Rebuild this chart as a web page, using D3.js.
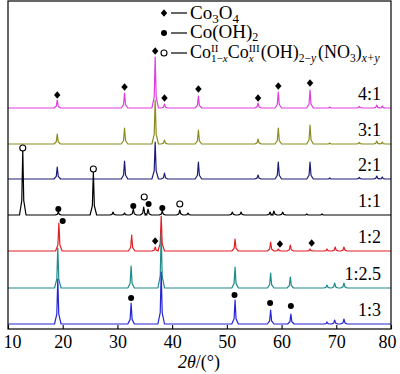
<!DOCTYPE html>
<meta charset='utf-8'>
<title>XRD patterns</title>
<style>
body {
  margin: 0;
  background-color: #fff;
}
text {
  font-family: "Liberation Serif", "Times New Roman", serif;
}
</style>
<svg width="400" height="374"></svg>
<script src="https://d3js.org/d3.v7.min.js"></script>
<script>

// x axis ticks (2theta, degrees)
var thetaTicks = [10, 20, 30, 40, 50, 60, 70, 80];

// sample labels, top to bottom, and their vertical offsets (intensity units)
var sampleLabels = ["4:1", "3:1", "2:1", "1:1", "1:2", "1:2.5", "1:3"];
var sampleOffsets = [221, 185, 150, 114, 78, 41, 5];
var sampleColors = ["#e03ce0", "#8c8c1e", "#1c1c78", "#000000", "#e31e24", "#1f8a8a", "#2424d4"];

// peaks: [2theta, height]
var peaks41 = [[19.0, 8], [31.3, 15], [36.9, 51], [38.6, 4], [44.8, 12], [55.7, 5], [59.4, 16], [65.2, 18], [68.8, 1], [74.2, 1.5], [77.4, 3], [78.4, 2]];
var peaks31 = [[19.0, 10], [31.3, 16], [36.9, 44], [38.6, 4], [44.8, 14], [55.7, 5], [59.4, 16], [65.2, 19], [68.8, 1], [74.2, 1.5], [77.4, 3], [78.4, 2]];
var peaks21 = [[19.0, 12], [31.3, 18], [36.9, 37], [38.6, 6], [44.8, 17], [55.7, 4], [59.4, 17], [65.2, 17], [68.8, 1], [74.2, 1.5], [77.4, 3], [78.4, 2]];
var peaks11 = [[12.7, 65], [19.2, 3], [25.6, 43], [29.2, 3], [31.3, 2], [32.9, 6], [34.8, 8], [35.6, 6], [38.2, 4], [41.4, 5], [42.9, 2], [51.0, 3], [52.6, 3], [57.9, 3], [58.6, 4], [60.2, 3], [64.6, 1], [67.4, 1]];
var peaks12 = [[19.3, 28], [32.6, 16], [36.9, 4], [38.0, 35], [51.5, 12], [58.0, 9], [59.4, 2], [61.6, 6], [65.2, 2], [68.3, 2], [69.8, 4], [71.4, 4]];
var peaks125 = [[19.1, 40], [32.5, 22], [38.0, 55], [51.5, 21], [58.0, 15], [61.6, 11], [68.3, 3], [69.7, 5], [71.4, 5]];
var peaks13 = [[19.1, 45], [32.5, 21], [38.0, 52], [51.5, 24], [58.0, 14], [61.7, 10], [68.3, 2], [69.7, 4], [71.4, 5]];
var samplePeaks = [peaks41, peaks31, peaks21, peaks11, peaks12, peaks125, peaks13];

// phase markers: [2theta, level]
var spinelMarks = [[19.0, 234], [31.3, 242], [36.9, 278], [38.6, 231], [44.8, 240], [55.7, 231], [59.4, 243], [65.2, 246],
                   [36.9, 88], [59.7, 85], [65.5, 86]];
var hydroxideMarks = [[19.2, 120], [32.9, 123], [35.7, 125], [38.2, 121], [20.0, 108],
                      [32.5, 31], [51.4, 34], [57.9, 26], [61.7, 23]];
var nitrateMarks = [[12.7, 181], [25.6, 160], [34.9, 132], [41.4, 125]];

var svg = d3.select("svg");
var plotLeft = 8, plotRight = 391, plotTop = 1, plotBottom = 329;

var x = d3.scaleLinear().domain([10, 80]).range([plotLeft, plotRight]);
var y = d3.scaleLinear().domain([0, 328]).range([plotBottom, plotTop]);

var hw = 0.6; // half width of a drawn peak, degrees

function profile(peaks) {
  var pts = [[10, 0]];
  peaks.forEach(function(p) {
    pts.push([p[0] - hw, 0], [p[0] - hw * 0.3, p[1] * 0.22], [p[0], p[1]],
             [p[0] + hw * 0.3, p[1] * 0.22], [p[0] + hw, 0]);
  });
  pts.push([80, 0]);
  return pts;
}

var line = d3.line();

var traces = svg.append("g").attr("fill", "none").attr("stroke-width", 1.2).attr("stroke-linejoin", "round");
samplePeaks.forEach(function(peaks, i) {
  var off = sampleOffsets[i];
  traces.append("path")
      .attr("stroke", sampleColors[i])
      .attr("d", line(profile(peaks).map(function(d) { return [x(d[0]), y(d[1] + off)]; })));
});

// sample labels
svg.append("g").selectAll("text")
    .data(sampleLabels)
  .enter().append("text")
    .attr("x", 381)
    .attr("y", function(d, i) { return y(sampleOffsets[i]) - 8; })
    .attr("text-anchor", "end")
    .attr("font-size", 18)
    .text(function(d) { return d; });

// markers
var diamond = "M0,-3.8L3.2,0L0,3.8L-3.2,0Z";
svg.append("g").selectAll("path")
    .data(spinelMarks)
  .enter().append("path")
    .attr("d", diamond)
    .attr("transform", function(d) { return "translate(" + x(d[0]) + "," + y(d[1]) + ")"; });

svg.append("g").selectAll("circle")
    .data(hydroxideMarks)
  .enter().append("circle")
    .attr("cx", function(d) { return x(d[0]); })
    .attr("cy", function(d) { return y(d[1]); })
    .attr("r", 3);

svg.append("g").selectAll("circle")
    .data(nitrateMarks)
  .enter().append("circle")
    .attr("cx", function(d) { return x(d[0]); })
    .attr("cy", function(d) { return y(d[1]); })
    .attr("r", 3)
    .attr("fill", "#fff")
    .attr("stroke", "#000")
    .attr("stroke-width", 1.1);

// frame
svg.append("rect")
    .attr("x", plotLeft).attr("y", plotTop)
    .attr("width", plotRight - plotLeft).attr("height", plotBottom - plotTop)
    .attr("fill", "none").attr("stroke", "#000").attr("stroke-width", 1.2);

// x axis
var xAxis = svg.append("g")
    .attr("transform", "translate(0," + plotBottom + ")")
    .call(d3.axisBottom(x).tickValues(thetaTicks).tickSizeInner(-4).tickSizeOuter(0).tickPadding(6));
xAxis.select(".domain").remove();
xAxis.selectAll("line").attr("stroke-width", 1.1);
xAxis.selectAll("text")
    .attr("font-size", 18)
    .attr("dx", function(d) { return d === 10 ? 4 : d === 80 ? -4 : 0; });

var title = svg.append("text")
    .attr("x", 199).attr("y", 368)
    .attr("text-anchor", "middle")
    .attr("font-size", 18);
title.append("tspan").attr("font-style", "italic").text("2θ");
title.append("tspan").text("/(°)");

// legend
var legend = svg.append("g");
var legendY = [13, 33, 53];
legend.append("path").attr("d", diamond).attr("transform", "translate(164," + legendY[0] + ")");
legend.append("circle").attr("cx", 164).attr("cy", legendY[1]).attr("r", 3);
legend.append("circle").attr("cx", 164).attr("cy", legendY[2]).attr("r", 3)
    .attr("fill", "#fff").attr("stroke", "#000").attr("stroke-width", 1.1);
legendY.forEach(function(ly) {
  legend.append("line").attr("x1", 171).attr("x2", 187).attr("y1", ly).attr("y2", ly)
      .attr("stroke", "#000").attr("stroke-width", 1.2);
});

var t1 = legend.append("text").attr("x", 190).attr("y", 19).attr("font-size", 19);
t1.append("tspan").text("Co");
t1.append("tspan").attr("font-size", 13).attr("dy", 4).text("3");
t1.append("tspan").attr("dy", -4).text("O");
t1.append("tspan").attr("font-size", 13).attr("dy", 4).text("4");

var t2 = legend.append("text").attr("x", 190).attr("y", 38).attr("font-size", 19);
t2.append("tspan").text("Co(OH)");
t2.append("tspan").attr("font-size", 12).attr("dy", 3).text("2");

// third entry: stacked super/subscripts
var t3 = legend.append("text").attr("x", 190).attr("y", 58).attr("font-size", 18);
t3.append("tspan").text("Co");
var s1 = t3.append("tspan").attr("font-size", 11).attr("dy", -6).text("II");
var w1 = s1.node().getComputedTextLength();
var s2 = t3.append("tspan").attr("font-size", 11).attr("dy", 10).attr("dx", -w1);
s2.append("tspan").text("1−");
s2.append("tspan").attr("font-style", "italic").text("x");
t3.append("tspan").attr("dy", -4).text("Co");
var s3 = t3.append("tspan").attr("font-size", 11).attr("dy", -6).text("III");
var w3 = s3.node().getComputedTextLength();
var s4 = t3.append("tspan").attr("font-size", 11).attr("font-style", "italic").attr("dy", 10).attr("dx", -w3).text("x");
var wx = s4.node().getComputedTextLength();
t3.append("tspan").attr("dy", -4).attr("dx", w3 - wx + 1).text("(OH)");
var s5 = t3.append("tspan").attr("font-size", 11.5).attr("dy", 4);
s5.append("tspan").text("2−");
s5.append("tspan").attr("font-style", "italic").text("y");
t3.append("tspan").attr("dy", -4).attr("dx", 2).text("(NO");
t3.append("tspan").attr("font-size", 11.5).attr("dy", 4).text("3");
t3.append("tspan").attr("dy", -4).text(")");
t3.append("tspan").attr("font-size", 11.5).attr("font-style", "italic").attr("dy", 4).text("x+y");

</script>
